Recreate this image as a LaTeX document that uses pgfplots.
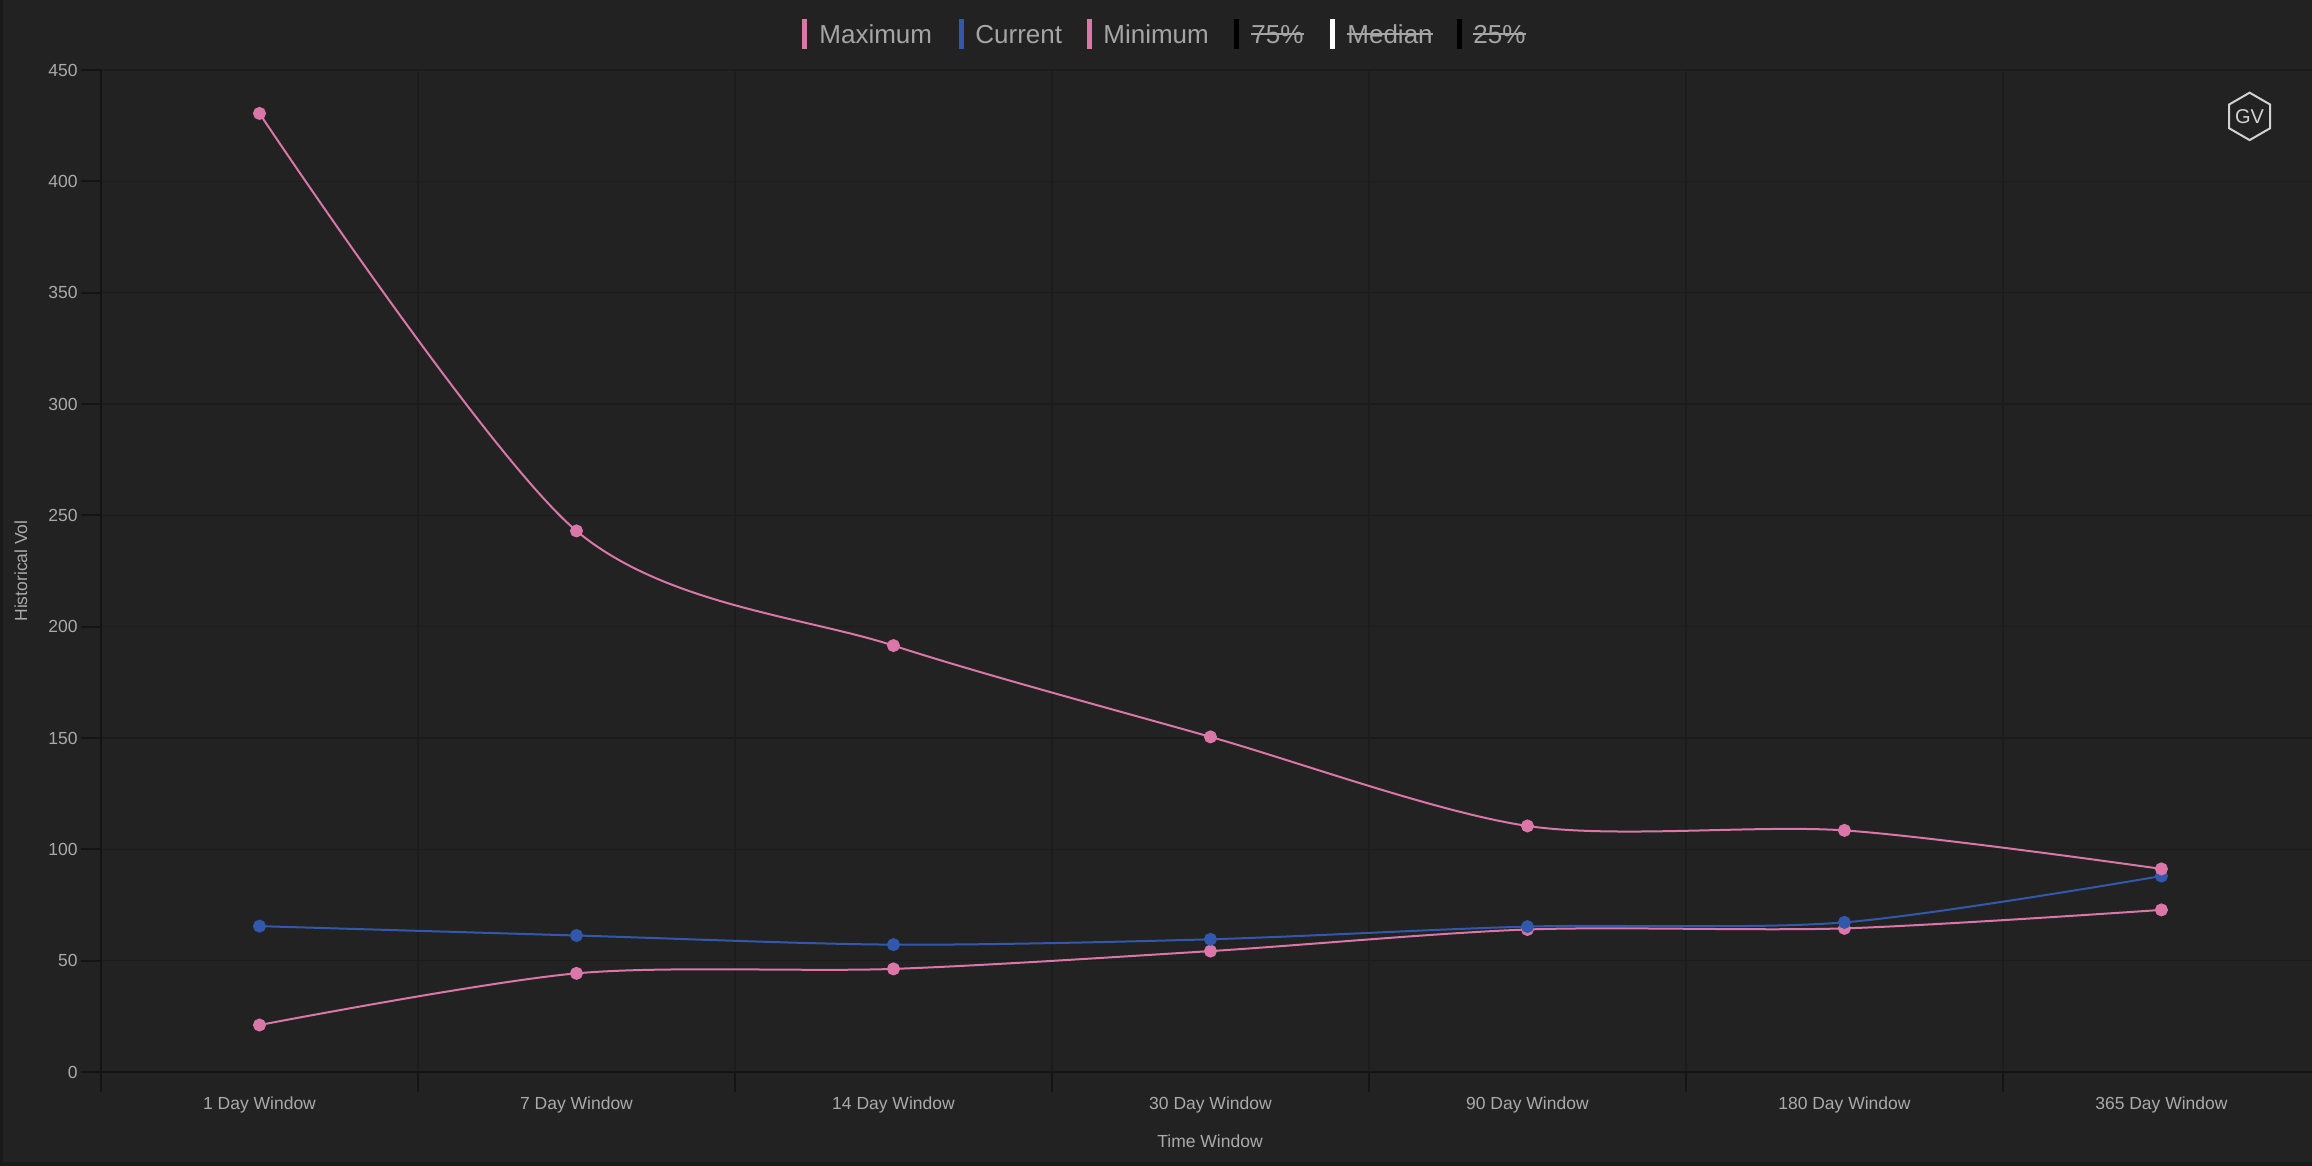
\documentclass[border=0pt]{standalone}
\usepackage{fontspec}
\setmainfont{Liberation Sans}
\usepackage{pgfplots}
\pgfplotsset{compat=1.18}
\definecolor{bg}{RGB}{34,34,34}
\definecolor{edgec}{RGB}{26,26,26}
\definecolor{gridc}{RGB}{28,28,28}
\definecolor{axc}{RGB}{20,20,20}
\definecolor{txt}{RGB}{170,170,170}
\definecolor{legtxt}{RGB}{165,165,165}
\definecolor{pinkc}{RGB}{218,118,168}
\definecolor{bluec}{RGB}{50,88,172}
\definecolor{iconc}{RGB}{210,210,210}
\begin{document}
\begin{tikzpicture}
\clip (0,0) rectangle (1156pt,583pt);
\fill[bg] (0,0) rectangle (1156pt,583pt);
\fill[edgec] (0,0) rectangle (1.5pt,583pt);
\fill[edgec] (0,0) rectangle (1156pt,2pt);
\begin{axis}[
  at={(50.5pt,47pt)}, anchor=south west,
  scale only axis, width=1105.5pt, height=501pt,
  xmin=-0.5, xmax=6.475, ymin=0, ymax=450,
  axis x line*=bottom, axis y line*=left,
  axis line style={draw=axc, line width=1pt},
  xtick={-0.5,0.5,1.5,2.5,3.5,4.5,5.5}, xticklabels={},
  extra x ticks={0,1,2,3,4,5,6},
  extra x tick labels={1 Day Window,7 Day Window,14 Day Window,30 Day Window,90 Day Window,180 Day Window,365 Day Window},
  extra x tick style={grid=none, major tick length=0pt,
    xticklabel style={anchor=base, yshift=-19pt}},
  ytick={0,50,...,450},
  /pgf/number format/assume math mode=true,
  xmajorgrids, ymajorgrids,
  grid style={draw=gridc, line width=0.6pt},
  tick align=outside, major tick length=10pt,
  tick style={draw=axc, line width=1pt},
  ticklabel style={font=\fontsize{8.75}{10}\selectfont, text=txt},
  yticklabel style={anchor=east, inner sep=0pt, xshift=-1.5pt},
  xlabel={Time Window}, ylabel={Historical Vol},
  label style={font=\fontsize{8.75}{10}\selectfont, text=txt},
  xlabel style={at={(axis description cs:0.5016,-0.0758)}, anchor=base},
  ylabel style={at={(axis description cs:-0.0362,0.5)}, anchor=center},
]
\addplot[pinkc, line width=1pt, smooth, tension=0.5, mark=*, mark size=2.75pt,
  mark options={solid, fill=pinkc, draw=pinkc}] coordinates {
  (0,21.1) (1,44.3) (2,46.3) (3,54.3) (4,64.0) (5,64.5) (6,72.8)};
\addplot[bluec, line width=1pt, smooth, tension=0.5, mark=*, mark size=2.75pt,
  mark options={solid, fill=bluec, draw=bluec}] coordinates {
  (0,65.5) (1,61.3) (2,57.2) (3,59.6) (4,65.3) (5,67.2) (6,88.0)};
\addplot[pinkc, line width=1pt, smooth, tension=0.5, mark=*, mark size=2.75pt,
  mark options={solid, fill=pinkc, draw=pinkc}] coordinates {
  (0,430.5) (1,243) (2,191.5) (3,150.5) (4,110.5) (5,108.5) (6,91.2)};
\end{axis}
% legend
\fill[pinkc] (401pt,558.5pt) rectangle (403.5pt,573.5pt);
\node[anchor=base west, inner sep=0pt, text=legtxt, font=\fontsize{13}{15}\selectfont] at (409.5pt,561.25pt) {Maximum};
\fill[bluec] (479.5pt,558.5pt) rectangle (482pt,573.5pt);
\node[anchor=base west, inner sep=0pt, text=legtxt, font=\fontsize{13}{15}\selectfont] at (487.5pt,561.25pt) {Current};
\fill[pinkc] (543.25pt,558.5pt) rectangle (545.75pt,573.5pt);
\node[anchor=base west, inner sep=0pt, text=legtxt, font=\fontsize{13}{15}\selectfont] at (551.5pt,561.25pt) {Minimum};
\fill[black] (617pt,558.5pt) rectangle (619.5pt,573.5pt);
\node[anchor=base west, inner sep=0pt, text=legtxt, font=\fontsize{13}{15}\selectfont] (l75) at (625.5pt,561.25pt) {75\%};
\fill[white] (665pt,558.5pt) rectangle (667.5pt,573.5pt);
\node[anchor=base west, inner sep=0pt, text=legtxt, font=\fontsize{13}{15}\selectfont] (lmed) at (673.5pt,561.25pt) {Median};
\fill[black] (728.5pt,558.5pt) rectangle (731pt,573.5pt);
\node[anchor=base west, inner sep=0pt, text=legtxt, font=\fontsize{13}{15}\selectfont] (l25) at (736.5pt,561.25pt) {25\%};
\foreach \n in {l75,lmed,l25}{
  \draw[legtxt, line width=1pt] (\n.west |- 0,566pt) -- (\n.east |- 0,566pt);
}
% icon
\draw[iconc, line width=1pt] (1124.8pt,524.8pt) +(90:11.85pt) -- +(150:11.85pt) -- +(210:11.85pt) -- +(270:11.85pt) -- +(330:11.85pt) -- +(30:11.85pt) -- cycle;
\node[text=iconc, inner sep=0pt, font=\fontsize{10}{12}\selectfont] at (1124.8pt,524.8pt) {GV};
\end{tikzpicture}
\end{document}
